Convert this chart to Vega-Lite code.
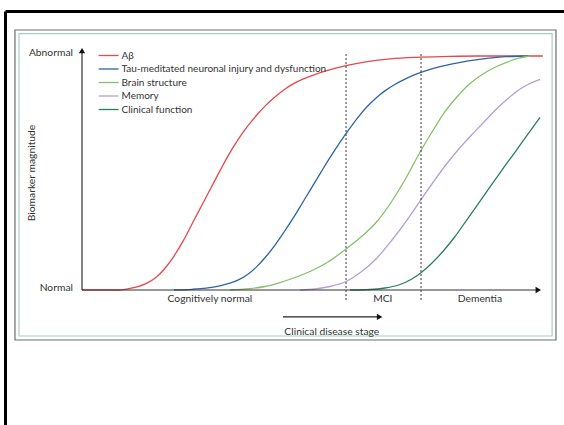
{
  "$schema": "https://vega.github.io/schema/vega-lite/v6.json",
  "width": 559,
  "height": 414,
  "padding": {"left": 5, "top": 11, "right": 0, "bottom": 0},
  "autosize": {"type": "none"},
  "background": "white",
  "config": {"view": {"stroke": null}, "font": "Lato", "text": {"font": "Lato", "color": "#333333", "fontSize": 10.3}},
  "datasets": {
    "curves": [
      {"series": "Aβ", "stage": 0, "level": 0},
      {"series": "Aβ", "stage": 8, "level": 0},
      {"series": "Aβ", "stage": 10, "level": 0.5},
      {"series": "Aβ", "stage": 12, "level": 1.3},
      {"series": "Aβ", "stage": 14, "level": 2.8},
      {"series": "Aβ", "stage": 16, "level": 5.2},
      {"series": "Aβ", "stage": 18, "level": 9.2},
      {"series": "Aβ", "stage": 20, "level": 14.5},
      {"series": "Aβ", "stage": 22, "level": 21},
      {"series": "Aβ", "stage": 24, "level": 28.5},
      {"series": "Aβ", "stage": 26, "level": 36},
      {"series": "Aβ", "stage": 28, "level": 43.5},
      {"series": "Aβ", "stage": 30, "level": 51},
      {"series": "Aβ", "stage": 32, "level": 58.2},
      {"series": "Aβ", "stage": 34, "level": 64.5},
      {"series": "Aβ", "stage": 36, "level": 70},
      {"series": "Aβ", "stage": 38, "level": 74.8},
      {"series": "Aβ", "stage": 40, "level": 79},
      {"series": "Aβ", "stage": 42, "level": 82.6},
      {"series": "Aβ", "stage": 44, "level": 85.7},
      {"series": "Aβ", "stage": 46, "level": 88.2},
      {"series": "Aβ", "stage": 48, "level": 90.1},
      {"series": "Aβ", "stage": 50, "level": 91.6},
      {"series": "Aβ", "stage": 53, "level": 93.6},
      {"series": "Aβ", "stage": 57.4, "level": 95.9},
      {"series": "Aβ", "stage": 62, "level": 97.6},
      {"series": "Aβ", "stage": 67, "level": 98.8},
      {"series": "Aβ", "stage": 73.6, "level": 99.5},
      {"series": "Aβ", "stage": 80, "level": 99.85},
      {"series": "Aβ", "stage": 86, "level": 100},
      {"series": "Aβ", "stage": 100.2, "level": 100},
      {"series": "Tau-meditated neuronal injury and dysfunction", "stage": 20, "level": 0},
      {"series": "Tau-meditated neuronal injury and dysfunction", "stage": 24, "level": 0.3},
      {"series": "Tau-meditated neuronal injury and dysfunction", "stage": 27, "level": 0.8},
      {"series": "Tau-meditated neuronal injury and dysfunction", "stage": 30, "level": 1.8},
      {"series": "Tau-meditated neuronal injury and dysfunction", "stage": 32, "level": 2.8},
      {"series": "Tau-meditated neuronal injury and dysfunction", "stage": 34, "level": 4.3},
      {"series": "Tau-meditated neuronal injury and dysfunction", "stage": 36, "level": 6.6},
      {"series": "Tau-meditated neuronal injury and dysfunction", "stage": 38, "level": 10},
      {"series": "Tau-meditated neuronal injury and dysfunction", "stage": 40, "level": 14.3},
      {"series": "Tau-meditated neuronal injury and dysfunction", "stage": 42, "level": 19.3},
      {"series": "Tau-meditated neuronal injury and dysfunction", "stage": 44, "level": 25},
      {"series": "Tau-meditated neuronal injury and dysfunction", "stage": 46, "level": 31},
      {"series": "Tau-meditated neuronal injury and dysfunction", "stage": 48, "level": 37.5},
      {"series": "Tau-meditated neuronal injury and dysfunction", "stage": 50, "level": 44},
      {"series": "Tau-meditated neuronal injury and dysfunction", "stage": 52, "level": 50.5},
      {"series": "Tau-meditated neuronal injury and dysfunction", "stage": 54, "level": 56.9},
      {"series": "Tau-meditated neuronal injury and dysfunction", "stage": 56, "level": 62.9},
      {"series": "Tau-meditated neuronal injury and dysfunction", "stage": 58, "level": 68.5},
      {"series": "Tau-meditated neuronal injury and dysfunction", "stage": 60, "level": 73.8},
      {"series": "Tau-meditated neuronal injury and dysfunction", "stage": 62, "level": 78.4},
      {"series": "Tau-meditated neuronal injury and dysfunction", "stage": 64, "level": 82.2},
      {"series": "Tau-meditated neuronal injury and dysfunction", "stage": 66, "level": 85.3},
      {"series": "Tau-meditated neuronal injury and dysfunction", "stage": 68, "level": 87.8},
      {"series": "Tau-meditated neuronal injury and dysfunction", "stage": 70, "level": 89.9},
      {"series": "Tau-meditated neuronal injury and dysfunction", "stage": 72, "level": 91.7},
      {"series": "Tau-meditated neuronal injury and dysfunction", "stage": 74, "level": 93.2},
      {"series": "Tau-meditated neuronal injury and dysfunction", "stage": 77, "level": 95.0},
      {"series": "Tau-meditated neuronal injury and dysfunction", "stage": 80, "level": 96.4},
      {"series": "Tau-meditated neuronal injury and dysfunction", "stage": 84, "level": 97.9},
      {"series": "Tau-meditated neuronal injury and dysfunction", "stage": 88, "level": 99.0},
      {"series": "Tau-meditated neuronal injury and dysfunction", "stage": 92, "level": 99.7},
      {"series": "Tau-meditated neuronal injury and dysfunction", "stage": 97.4, "level": 100},
      {"series": "Brain structure", "stage": 32.17, "level": 0},
      {"series": "Brain structure", "stage": 36.52, "level": 0.56},
      {"series": "Brain structure", "stage": 39.78, "level": 1.5},
      {"series": "Brain structure", "stage": 43.04, "level": 3.2},
      {"series": "Brain structure", "stage": 46.3, "level": 5.34},
      {"series": "Brain structure", "stage": 49.57, "level": 7.91},
      {"series": "Brain structure", "stage": 53.48, "level": 11.97},
      {"series": "Brain structure", "stage": 57.39, "level": 17.52},
      {"series": "Brain structure", "stage": 60.65, "level": 22.65},
      {"series": "Brain structure", "stage": 64.13, "level": 29.27},
      {"series": "Brain structure", "stage": 67.39, "level": 38.03},
      {"series": "Brain structure", "stage": 70.43, "level": 47.86},
      {"series": "Brain structure", "stage": 73.63, "level": 59.4},
      {"series": "Brain structure", "stage": 76.09, "level": 67.52},
      {"series": "Brain structure", "stage": 78.54, "level": 75.21},
      {"series": "Brain structure", "stage": 81.3, "level": 82.05},
      {"series": "Brain structure", "stage": 84.35, "level": 88.25},
      {"series": "Brain structure", "stage": 87.17, "level": 92.31},
      {"series": "Brain structure", "stage": 90.15, "level": 95.51},
      {"series": "Brain structure", "stage": 93.04, "level": 97.86},
      {"series": "Brain structure", "stage": 95.22, "level": 99.15},
      {"series": "Brain structure", "stage": 97.39, "level": 100},
      {"series": "Memory", "stage": 47.39, "level": 0},
      {"series": "Memory", "stage": 50.65, "level": 0.43},
      {"series": "Memory", "stage": 53.91, "level": 1.5},
      {"series": "Memory", "stage": 57.39, "level": 3.63},
      {"series": "Memory", "stage": 60.65, "level": 7.69},
      {"series": "Memory", "stage": 64.13, "level": 13.68},
      {"series": "Memory", "stage": 67.39, "level": 21.37},
      {"series": "Memory", "stage": 70.65, "level": 29.91},
      {"series": "Memory", "stage": 73.63, "level": 38.46},
      {"series": "Memory", "stage": 76.3, "level": 45.94},
      {"series": "Memory", "stage": 78.91, "level": 52.99},
      {"series": "Memory", "stage": 81.74, "level": 59.83},
      {"series": "Memory", "stage": 84.57, "level": 66.03},
      {"series": "Memory", "stage": 87.39, "level": 71.79},
      {"series": "Memory", "stage": 90.22, "level": 77.56},
      {"series": "Memory", "stage": 92.61, "level": 81.84},
      {"series": "Memory", "stage": 94.78, "level": 85.26},
      {"series": "Memory", "stage": 96.96, "level": 87.82},
      {"series": "Memory", "stage": 99.57, "level": 90.04},
      {"series": "Clinical function", "stage": 58.26, "level": 0},
      {"series": "Clinical function", "stage": 62.61, "level": 0.21},
      {"series": "Clinical function", "stage": 65.87, "level": 0.85},
      {"series": "Clinical function", "stage": 69.13, "level": 2.35},
      {"series": "Clinical function", "stage": 71.52, "level": 4.49},
      {"series": "Clinical function", "stage": 73.63, "level": 7.26},
      {"series": "Clinical function", "stage": 76.09, "level": 11.54},
      {"series": "Clinical function", "stage": 78.54, "level": 16.67},
      {"series": "Clinical function", "stage": 81.09, "level": 22.86},
      {"series": "Clinical function", "stage": 83.63, "level": 29.91},
      {"series": "Clinical function", "stage": 86.09, "level": 36.75},
      {"series": "Clinical function", "stage": 88.7, "level": 44.02},
      {"series": "Clinical function", "stage": 91.3, "level": 51.28},
      {"series": "Clinical function", "stage": 93.91, "level": 58.33},
      {"series": "Clinical function", "stage": 96.74, "level": 66.03},
      {"series": "Clinical function", "stage": 99.57, "level": 73.72}
    ],
    "stages": [
      {"stage": "Cognitively normal", "center": 27.8},
      {"stage": "MCI", "center": 65.4},
      {"stage": "Dementia", "center": 86.5}
    ],
    "boundaries": [
      {"boundary": 57.4},
      {"boundary": 73.7}
    ]
  },
  "layer": [
    {
      "data": {"values": [{}]},
      "mark": {"type": "rect", "filled": false, "stroke": "#6e6e6e", "strokeWidth": 1.2},
      "encoding": {
        "x": {"datum": -14.57, "type": "quantitative", "title": null,
              "scale": {"domain": [-16.739, 104.783], "nice": false, "zero": false},
              "axis": {"orient": "top", "domainColor": "#000000", "domainWidth": 3, "labels": false, "ticks": false, "grid": false}},
        "x2": {"datum": 103.04},
        "y": {"datum": 111.11, "type": "quantitative", "title": null,
              "scale": {"domain": [-57.69, 119.23], "nice": false, "zero": false},
              "axis": {"orient": "left", "domainColor": "#000000", "domainWidth": 3, "labels": false, "ticks": false, "grid": false}},
        "y2": {"datum": -21.37}
      }
    },
    {
      "data": {"values": [{}]},
      "mark": {"type": "rect", "filled": false, "stroke": "#a6cfc6", "strokeWidth": 1.2},
      "encoding": {
        "x": {"datum": -13.7, "type": "quantitative", "title": null},
        "x2": {"datum": 102.2},
        "y": {"datum": 109.6, "type": "quantitative", "title": null},
        "y2": {"datum": -19.66}
      }
    },
    {
      "data": {"name": "curves"},
      "mark": {"type": "line", "interpolate": "monotone", "strokeWidth": 1.3},
      "encoding": {
        "x": {"field": "stage", "type": "quantitative", "title": null},
        "y": {"field": "level", "type": "quantitative", "title": null},
        "color": {
          "field": "series", "type": "nominal", "title": null,
          "scale": {
            "domain": ["Aβ", "Tau-meditated neuronal injury and dysfunction", "Brain structure", "Memory", "Clinical function"],
            "range": ["#e8474b", "#2e64a6", "#86c068", "#b49fd6", "#2a7e62"]
          },
          "legend": {
            "orient": "none", "legendX": 92, "legendY": 39.5, "direction": "vertical",
            "symbolType": "M-1,0H5", "symbolSize": 44, "symbolStrokeWidth": 1.3,
            "labelFont": "Lato", "labelFontSize": 10, "labelColor": "#333333", "labelLimit": 400,
            "labelOffset": 14.5, "rowPadding": 3.5, "padding": 0
          }
        }
      }
    },
    {
      "data": {"values": [{}]},
      "mark": {"type": "rule", "color": "#333333", "strokeWidth": 1.2},
      "encoding": {
        "x": {"datum": 0, "type": "quantitative", "title": null},
        "y": {"datum": 0, "type": "quantitative", "title": null},
        "y2": {"datum": 101.5}
      }
    },
    {
      "data": {"values": [{}]},
      "mark": {"type": "rule", "color": "#333333", "strokeWidth": 1.2},
      "encoding": {
        "x": {"datum": 0, "type": "quantitative", "title": null},
        "x2": {"datum": 99},
        "y": {"datum": 0, "type": "quantitative", "title": null}
      }
    },
    {
      "data": {"values": [{}]},
      "mark": {"type": "point", "shape": "triangle-up", "filled": true, "color": "#111111", "size": 40, "opacity": 1},
      "encoding": {
        "x": {"datum": 0, "type": "quantitative", "title": null},
        "y": {"datum": 102.3, "type": "quantitative", "title": null}
      }
    },
    {
      "data": {"values": [{}]},
      "mark": {"type": "point", "shape": "triangle-right", "filled": true, "color": "#111111", "size": 40, "opacity": 1},
      "encoding": {
        "x": {"datum": 99.2, "type": "quantitative", "title": null},
        "y": {"datum": 0, "type": "quantitative", "title": null}
      }
    },
    {
      "data": {"name": "boundaries"},
      "mark": {"type": "rule", "color": "#333333", "strokeWidth": 1, "strokeDash": [2, 2]},
      "encoding": {
        "x": {"field": "boundary", "type": "quantitative", "title": null},
        "y": {"datum": -4.3, "type": "quantitative", "title": null},
        "y2": {"datum": 101.7}
      }
    },
    {
      "data": {"name": "stages"},
      "mark": {"type": "text", "align": "center", "baseline": "middle"},
      "encoding": {
        "x": {"field": "center", "type": "quantitative", "title": null},
        "y": {"datum": -4, "type": "quantitative", "title": null},
        "text": {"field": "stage"}
      }
    },
    {
      "data": {"values": [{}]},
      "mark": {"type": "rule", "color": "#222222", "strokeWidth": 1.2},
      "encoding": {
        "x": {"datum": 43.7, "type": "quantitative", "title": null},
        "x2": {"datum": 64.5},
        "y": {"datum": -11.5, "type": "quantitative", "title": null}
      }
    },
    {
      "data": {"values": [{}]},
      "mark": {"type": "point", "shape": "triangle-right", "filled": true, "color": "#111111", "size": 40, "opacity": 1},
      "encoding": {
        "x": {"datum": 64.7, "type": "quantitative", "title": null},
        "y": {"datum": -11.5, "type": "quantitative", "title": null}
      }
    },
    {
      "data": {"values": [{"label": "Clinical disease stage"}]},
      "mark": {"type": "text", "align": "center", "baseline": "middle"},
      "encoding": {
        "x": {"datum": 54.3, "type": "quantitative", "title": null},
        "y": {"datum": -17.9, "type": "quantitative", "title": null},
        "text": {"field": "label"}
      }
    },
    {
      "data": {"values": [{"label": "Abnormal", "level": 101.3}, {"label": "Normal", "level": 0.9}]},
      "mark": {"type": "text", "align": "right", "baseline": "middle"},
      "encoding": {
        "x": {"datum": -1.96, "type": "quantitative", "title": null},
        "y": {"field": "level", "type": "quantitative", "title": null},
        "text": {"field": "label"}
      }
    },
    {
      "data": {"values": [{"label": "Biomarker magnitude"}]},
      "mark": {"type": "text", "align": "center", "baseline": "middle", "angle": 270},
      "encoding": {
        "x": {"datum": -10.9, "type": "quantitative", "title": null},
        "y": {"datum": 50, "type": "quantitative", "title": null},
        "text": {"field": "label"}
      }
    }
  ]
}
